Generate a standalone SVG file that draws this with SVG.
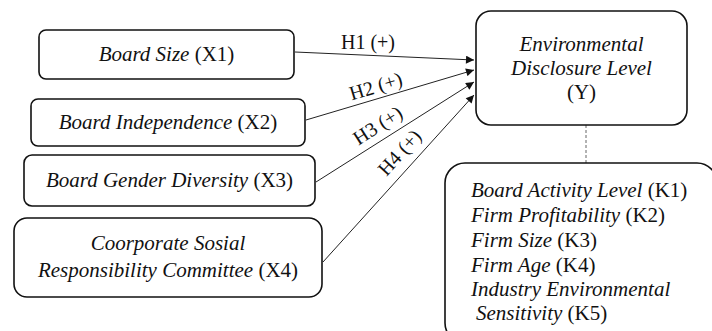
<svg xmlns="http://www.w3.org/2000/svg" width="712" height="331" viewBox="0 0 712 331">
<defs>
<style>
.box{fill:#fff;stroke:#111;stroke-width:1.6}
.t{font-family:"Liberation Serif","Times New Roman",serif;font-size:21px;fill:#111}
.c{text-anchor:middle}
.i{font-style:italic}
.lbl{font-family:"Liberation Serif","Times New Roman",serif;font-size:20px;fill:#111;text-anchor:middle}
.edge{stroke:#222;stroke-width:1;fill:none;marker-end:url(#ah)}
.dash{stroke:#666;stroke-width:1;stroke-dasharray:3 2;fill:none}
</style>
<marker id="ah" viewBox="0 0 10 10" refX="10" refY="5" markerWidth="10" markerHeight="8" markerUnits="userSpaceOnUse" orient="auto">
<path d="M0,0 L10,5 L0,10 z" fill="#111"/>
</marker>
</defs>
<rect width="712" height="331" fill="#fff"/>
<g id="connectors">
<line class="edge" x1="295" y1="52" x2="474" y2="60"/>
<line class="edge" x1="306" y1="120" x2="474" y2="70"/>
<line class="edge" x1="316" y1="182" x2="474" y2="82"/>
<line class="edge" x1="323" y1="262" x2="474" y2="95"/>
<line class="dash" x1="586" y1="125" x2="586" y2="163"/>
<text class="lbl" x="368" y="49">H1 (+)</text>
<text class="lbl" transform="translate(376,87) rotate(-16.8)" y="6">H2 (+)</text>
<text class="lbl" transform="translate(378,126) rotate(-32.7)" y="6">H3 (+)</text>
<text class="lbl" transform="translate(400,153) rotate(-48)" y="6">H4 (+)</text>
</g>
<g id="x1">
<rect class="box" x="39" y="30" width="255" height="49" rx="7"/>
<text class="t c" x="166.5" y="61"><tspan class="i">Board Size</tspan> (X1)</text>
</g>
<g id="x2">
<rect class="box" x="31" y="99" width="274" height="47" rx="7"/>
<text class="t c" x="168" y="129"><tspan class="i">Board Independence</tspan> (X2)</text>
</g>
<g id="x3">
<rect class="box" x="24" y="155" width="291" height="51" rx="8"/>
<text class="t c" x="169.5" y="187"><tspan class="i">Board Gender Diversity</tspan> (X3)</text>
</g>
<g id="x4">
<rect class="box" x="14" y="218" width="308" height="79" rx="13"/>
<text class="t c i" x="168" y="250">Coorporate Sosial</text>
<text class="t c" x="168" y="277"><tspan class="i">Responsibility Committee</tspan> (X4)</text>
</g>
<g id="y">
<rect class="box" x="476" y="11" width="211" height="114" rx="15"/>
<text class="t c i" x="581.5" y="51">Environmental</text>
<text class="t c i" x="581.5" y="75">Disclosure Level</text>
<text class="t c" x="581.5" y="99">(Y)</text>
</g>
<g id="k">
<rect class="box" x="445" y="163" width="272" height="180" rx="20"/>
<text class="t" x="471" y="197"><tspan class="i">Board Activity Level</tspan> (K1)</text>
<text class="t" x="471" y="222"><tspan class="i">Firm Profitability</tspan> (K2)</text>
<text class="t" x="471" y="247"><tspan class="i">Firm Size</tspan> (K3)</text>
<text class="t" x="471" y="272"><tspan class="i">Firm Age</tspan> (K4)</text>
<text class="t i" x="471" y="296">Industry Environmental</text>
<text class="t" x="476" y="320"><tspan class="i">Sensitivity</tspan> (K5)</text>
</g>
</svg>
